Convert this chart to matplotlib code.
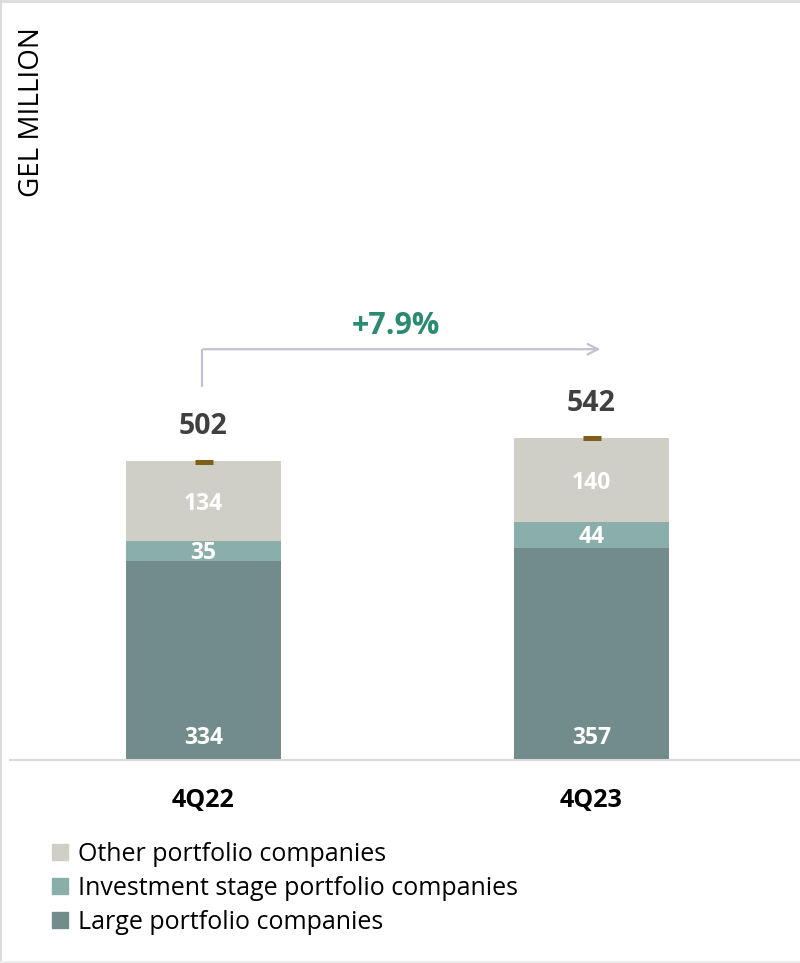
import matplotlib
matplotlib.use("Agg")
import matplotlib.pyplot as plt
from matplotlib.patches import Patch
from matplotlib.lines import Line2D
import numpy as np

categories = ["4Q22", "4Q23"]
large = [334, 357]
investment = [35, 44]
other = [134, 140]
totals = [502, 542]
growth_label = "+7.9%"
series_names = ["Other portfolio companies", "Investment stage portfolio companies", "Large portfolio companies"]

c_large = "#728c8b"
c_inv = "#8aaea9"
c_other = "#cfcec7"
c_total = "#7f5f1a"
c_arrow = "#c3c2d3"
c_growth = "#2a8a72"

plt.rcParams['font.family'] = ['Open Sans', 'DejaVu Sans']

W, H = 800, 963
fig = plt.figure(figsize=(W / 100, H / 100), dpi=100)

base_px = 760
ax = fig.add_axes([10 / W, (H - base_px) / H, 790 / W, base_px / H])
x = np.arange(len(categories))
width = 0.4
px_per_unit = 0.5945
ax.set_ylim(0, base_px / px_per_unit)
ax.set_xlim((10 - 203.5) / 388, (800 - 203.5) / 388)

ax.bar(x, large, width, color=c_large)
ax.bar(x, investment, width, bottom=large, color=c_inv)
bottom3 = [a + b for a, b in zip(large, investment)]
ax.bar(x, other, width, bottom=bottom3, color=c_other)

ax.plot(x, totals, linestyle='none', marker='_', markersize=13, markeredgewidth=3.6,
        color=c_total, zorder=5)

lab_kw = dict(ha='center', va='center', color='white', fontsize=16.5, fontweight='bold',
              textcoords='offset points')
for i in range(len(x)):
    ax.annotate(str(large[i]), (x[i], 0), xytext=(0, 15.5), **lab_kw)
    ax.annotate(str(investment[i]), (x[i], large[i] + investment[i] / 2), xytext=(0, -1.5), **lab_kw)
    ax.annotate(str(other[i]), (x[i], bottom3[i] + other[i] / 2), xytext=(0, -2), **lab_kw)
    ax.annotate(str(totals[i]), (x[i], bottom3[i] + other[i]), xytext=(0, 25),
                textcoords='offset points', ha='center', va='center',
                color='#404040', fontsize=20.5, fontweight='bold')

# growth arrow
y_start = totals[0] + 125
y_top = totals[0] + 189
ax.plot([x[0] - 0.005, x[0] - 0.005], [y_start, y_top], color=c_arrow, lw=1.6, solid_capstyle='butt')
ax.annotate("", xy=(x[1] + 0.03, y_top), xytext=(x[0] - 0.007, y_top),
            arrowprops=dict(arrowstyle='->,head_length=0.75,head_width=0.38', color=c_arrow, lw=1.6))
ax.annotate(growth_label, ((x[0] + x[1]) / 2 - 0.005, y_top), xytext=(0, 16.5),
            textcoords='offset points', ha='center', va='center',
            color=c_growth, fontsize=22, fontweight='bold')

for s in ['top', 'right', 'left']:
    ax.spines[s].set_visible(False)
ax.spines['bottom'].set_color('#d9d9d9')
ax.spines['bottom'].set_linewidth(1.5)
ax.set_yticks([])
ax.set_xticks(x)
ax.set_xticklabels(categories, fontsize=18, fontweight='bold', color='black')
ax.tick_params(axis='x', length=0, pad=20.5)

fig.text(32 / W, 1 - 112 / H, "GEL MILLION", rotation=90, ha='center', va='center',
         fontsize=20, color='black')

handles = [Patch(color=c_other), Patch(color=c_inv), Patch(color=c_large)]
fig.legend(handles, series_names, loc='upper left', bbox_to_anchor=(52 / W, 1 - 842 / H),
           frameon=False, fontsize=18, handlelength=0.64, handleheight=0.64,
           handletextpad=0.4, labelspacing=0.36, borderaxespad=0, borderpad=0)

# figure border
bc = '#dcdcdc'
fig.add_artist(Line2D([0, 1], [1 - 1 / H, 1 - 1 / H], transform=fig.transFigure, color=bc, lw=2))
fig.add_artist(Line2D([0.5 / W, 0.5 / W], [0, 1], transform=fig.transFigure, color=bc, lw=1.5))
fig.add_artist(Line2D([0, 1], [1.5 / H, 1.5 / H], transform=fig.transFigure, color='#eeeeee', lw=1.5))

fig.savefig("out.png", dpi=100)
